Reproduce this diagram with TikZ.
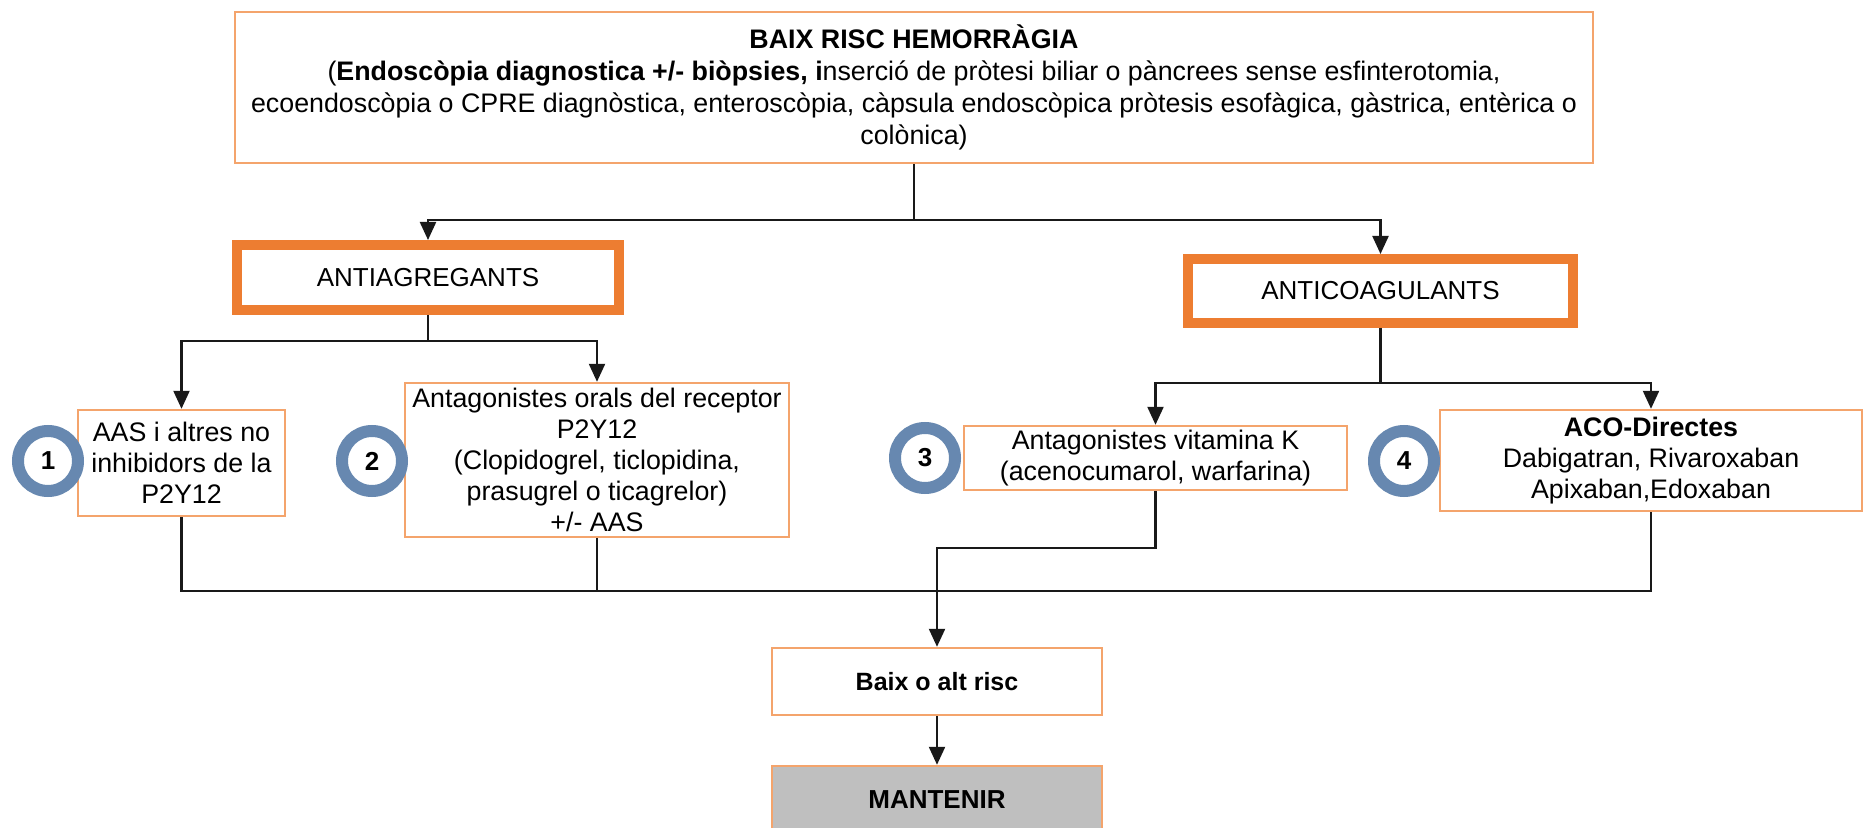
\documentclass[tikz,border=0pt]{standalone}
\usepackage{fontspec}
\setmainfont{Liberation Sans}
\usetikzlibrary{arrows.meta}
\definecolor{thinor}{RGB}{244,164,108}
\definecolor{thickor}{RGB}{237,125,49}
\definecolor{ringblue}{RGB}{103,136,176}
\definecolor{boxgray}{RGB}{191,191,191}
\begin{document}
\begin{tikzpicture}[x=0.5pt,y=-0.5pt,
  thinbox/.style={draw=thinor, line width=1.2pt, fill=white, align=center, inner sep=2pt,
    font=\fontsize{13.4}{15.5}\selectfont},
  thickbox/.style={draw=thickor, line width=5pt, fill=white, inner sep=2pt,
    font=\fontsize{13}{15.5}\selectfont},
  num/.style={circle, draw=ringblue, line width=6pt, fill=white, minimum size=30pt,
    inner sep=0pt, font=\bfseries\fontsize{13}{15}\selectfont},
  conn/.style={draw=black!90, line width=1.1pt},
  arr/.style={conn, -{Triangle[length=9pt,width=8pt]}}]
\useasboundingbox (0,0) rectangle (1864,828);
\fill[white] (0,0) rectangle (1864,828);

\node[thinbox, minimum width=679pt, minimum height=75.5pt,
  font=\fontsize{13.4}{16}\selectfont] (top) at (914,87.5)
  {\textbf{BAIX RISC HEMORRÀGIA}\\
   (\textbf{Endoscòpia diagnostica +/- biòpsies, i}nserció de pròtesi biliar o pàncrees sense esfinterotomia,\\
   ecoendoscòpia o CPRE diagnòstica, enteroscòpia, càpsula endoscòpica pròtesis esofàgica, gàstrica, entèrica o\\
   colònica)};

\node[thickbox, minimum width=191pt, minimum height=32.5pt] (antiag) at (428,277.5) {ANTIAGREGANTS};
\node[thickbox, minimum width=192.5pt, minimum height=32pt] (anticoag) at (1380.5,291) {ANTICOAGULANTS};

\node[thinbox, minimum width=103.5pt, minimum height=53pt] (b1) at (181.5,463)
  {AAS i altres no\\inhibidors de la\\P2Y12};
\node[thinbox, minimum width=192pt, minimum height=77pt] (b2) at (597,460)
  {Antagonistes orals del receptor\\P2Y12\\(Clopidogrel, ticlopidina,\\prasugrel o ticagrelor)\\+/- AAS};
\node[thinbox, minimum width=191.5pt, minimum height=32pt] (b3) at (1155.5,458)
  {Antagonistes vitamina K\\(acenocumarol, warfarina)};
\node[thinbox, minimum width=211pt, minimum height=50.5pt] (b4) at (1651,460.5)
  {\textbf{ACO-Directes}\\Dabigatran, Rivaroxaban\\Apixaban,Edoxaban};

\node[thinbox, minimum width=165pt, minimum height=33.5pt, font=\bfseries\fontsize{12.5}{15}\selectfont] (baix) at (937,681.5) {Baix o alt risc};
\node[thinbox, fill=boxgray, minimum width=165pt, minimum height=33.5pt, font=\bfseries\fontsize{13}{15}\selectfont] (mant) at (937,799.5) {MANTENIR};

\node[num] (c1) at (48,461) {1};
\node[num] (c2) at (372,461) {2};
\node[num] (c3) at (925,458) {3};
\node[num] (c4) at (1404,461) {4};

% connectors
\path (top.south) ++(0,56) coordinate (j0);
\draw[conn] (top.south) -- (j0);
\draw[arr] (j0) -| (antiag.north);
\draw[arr] (j0) -| (anticoag.north);

\path (antiag.south) ++(0,26) coordinate (j1);
\draw[conn] (antiag.south) -- (j1);
\draw[arr] (j1) -| (b1.north);
\draw[arr] (j1) -| (b2.north);

\path (anticoag.south) ++(0,55) coordinate (j2);
\draw[conn] (anticoag.south) -- (j2);
\draw[arr] (j2) -| (b3.north);
\draw[arr] (j2) -| (b4.north);

\coordinate (bus) at (0,591);
\coordinate (k) at (0,548);
\draw[conn] (b1.south) -- (b1.south |- bus) -- (b4.south |- bus) -- (b4.south);
\draw[conn] (b2.south) -- (b2.south |- bus);
\draw[arr] (b3.south) -- (b3.south |- k) -| (baix.north);
\draw[arr] (baix.south) -- (mant.north);
\end{tikzpicture}
\end{document}
